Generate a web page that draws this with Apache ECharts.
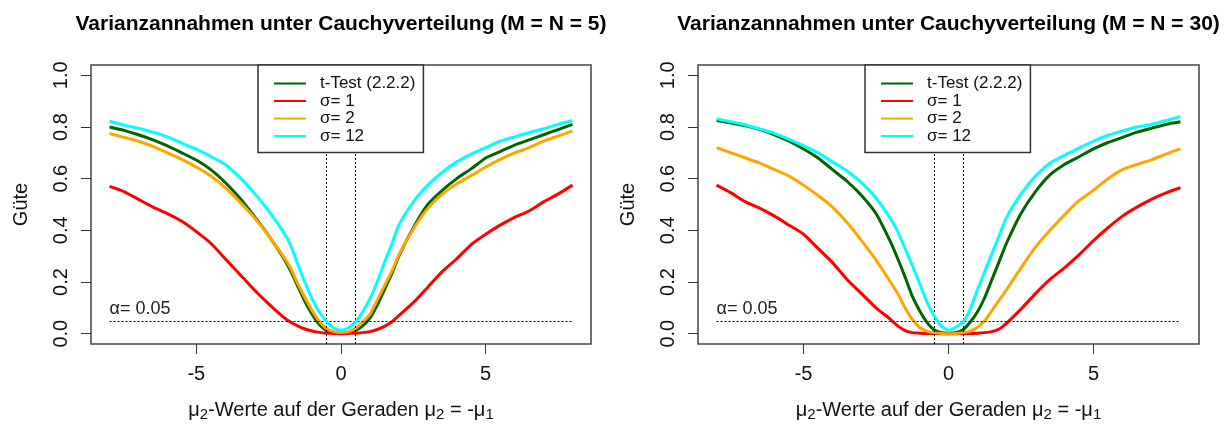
<!DOCTYPE html>
<html>
<head>
<meta charset="utf-8">
<script src="https://cdn.jsdelivr.net/npm/echarts@6/dist/echarts.min.js"></script>
<style>
  html, body { margin: 0; padding: 0; background: #fff; }
  #chart { width: 1229px; height: 427px; }
</style>
</head>
<body>
<div id="chart"></div>
<script>
// mu2 positions on the line mu2 = -mu1
const mu2 = [-8, -7.5, -7, -6.5, -6, -5.5, -5, -4.5, -4, -3.5, -3, -2.5, -2, -1.75, -1.5, -1.25, -1, -0.75, -0.5, -0.25,
  0, 0.25, 0.5, 0.75, 1, 1.25, 1.5, 1.75, 2, 2.5, 3, 3.5, 4, 4.5, 5, 5.5, 6, 6.5, 7, 7.5, 8];

// power (Güte), M = N = 5
const tTest5 = [0.80, 0.787, 0.77, 0.75, 0.727, 0.70, 0.672, 0.635, 0.585, 0.525, 0.455, 0.38, 0.295, 0.245, 0.185, 0.125, 0.075, 0.035, 0.012, 0.004,
  0.002, 0.004, 0.012, 0.03, 0.06, 0.11, 0.17, 0.23, 0.30, 0.41, 0.50, 0.555, 0.60, 0.638, 0.68, 0.705, 0.73, 0.75, 0.77, 0.79, 0.81];
const sigma1_5 = [0.57, 0.55, 0.52, 0.49, 0.465, 0.435, 0.395, 0.35, 0.29, 0.23, 0.17, 0.115, 0.065, 0.045, 0.03, 0.018, 0.01, 0.005, 0.002, 0.001,
  0, 0.001, 0.002, 0.004, 0.008, 0.016, 0.028, 0.045, 0.07, 0.12, 0.18, 0.24, 0.29, 0.345, 0.385, 0.42, 0.45, 0.475, 0.51, 0.54, 0.575];
const sigma2_5 = [0.775, 0.76, 0.745, 0.725, 0.70, 0.675, 0.645, 0.61, 0.565, 0.51, 0.45, 0.38, 0.30, 0.255, 0.195, 0.14, 0.09, 0.048, 0.02, 0.008,
  0.005, 0.008, 0.02, 0.045, 0.075, 0.13, 0.185, 0.24, 0.305, 0.405, 0.485, 0.54, 0.58, 0.612, 0.645, 0.675, 0.70, 0.72, 0.745, 0.765, 0.785];
const sigma12_5 = [0.822, 0.808, 0.795, 0.78, 0.762, 0.738, 0.714, 0.686, 0.655, 0.605, 0.545, 0.475, 0.395, 0.345, 0.27, 0.20, 0.135, 0.085, 0.048, 0.022,
  0.014, 0.022, 0.045, 0.085, 0.135, 0.20, 0.275, 0.345, 0.42, 0.51, 0.575, 0.625, 0.665, 0.695, 0.72, 0.745, 0.762, 0.778, 0.793, 0.81, 0.825];

// power (Güte), M = N = 30
const tTest30 = [0.825, 0.815, 0.805, 0.79, 0.77, 0.745, 0.715, 0.68, 0.635, 0.59, 0.535, 0.465, 0.355, 0.29, 0.22, 0.145, 0.09, 0.045, 0.015, 0.004,
  0.002, 0.004, 0.015, 0.045, 0.085, 0.14, 0.21, 0.28, 0.35, 0.465, 0.55, 0.615, 0.655, 0.685, 0.715, 0.74, 0.76, 0.78, 0.795, 0.81, 0.82];
const sigma1_30 = [0.575, 0.545, 0.51, 0.485, 0.455, 0.42, 0.385, 0.33, 0.275, 0.21, 0.155, 0.10, 0.055, 0.03, 0.012, 0.004, 0.002, 0.001, 0.001, 0,
  0, 0, 0.001, 0.001, 0.002, 0.004, 0.008, 0.018, 0.04, 0.095, 0.155, 0.21, 0.255, 0.305, 0.36, 0.41, 0.455, 0.49, 0.52, 0.545, 0.565];
const sigma2_30 = [0.72, 0.70, 0.68, 0.66, 0.635, 0.61, 0.575, 0.535, 0.49, 0.43, 0.36, 0.285, 0.20, 0.155, 0.10, 0.055, 0.025, 0.01, 0.004, 0.001,
  0, 0.001, 0.004, 0.01, 0.025, 0.05, 0.09, 0.13, 0.17, 0.255, 0.335, 0.40, 0.46, 0.515, 0.555, 0.60, 0.635, 0.655, 0.673, 0.695, 0.715];
const sigma12_30 = [0.832, 0.82, 0.808, 0.792, 0.775, 0.752, 0.728, 0.70, 0.665, 0.63, 0.585, 0.525, 0.445, 0.395, 0.33, 0.265, 0.195, 0.125, 0.07, 0.03,
  0.014, 0.025, 0.045, 0.095, 0.17, 0.24, 0.31, 0.38, 0.45, 0.54, 0.61, 0.66, 0.69, 0.718, 0.745, 0.768, 0.785, 0.80, 0.81, 0.825, 0.84];

const seriesNames = ['t-Test (2.2.2)', 'σ= 1', 'σ= 2', 'σ= 12'];
const seriesColors = ['#006400', '#ff0000', '#ffa500', '#00ffff'];
const panelTitles = ['Varianzannahmen unter Cauchyverteilung (M = N = 5)', 'Varianzannahmen unter Cauchyverteilung (M = N = 30)'];
const xTicks = [-5, 0, 5];
const yTicks = [0, 0.2, 0.4, 0.6, 0.8, 1.0];
const alphaLevel = 0.05;
const refX = [-0.5, 0.5];

const panels = [[tTest5, sigma1_5, sigma2_5, sigma12_5], [tTest30, sigma1_30, sigma2_30, sigma12_30]];

const FONT = '"Liberation Sans", Arial, sans-serif';
const TXT = '#111';

const grids = [
  { left: 91, top: 65, width: 500, height: 281 },
  { left: 698, top: 65, width: 501, height: 281 }
];

const chart = echarts.init(document.getElementById('chart'), null, { renderer: 'canvas' });

const xAxes = grids.map((g, i) => ({
  type: 'value', gridIndex: i, min: -8.64, max: 8.64,
  axisLine: { show: false, onZero: false },
  splitLine: { show: false },
  axisTick: { show: true, length: 10, inside: false, customValues: xTicks, lineStyle: { color: '#333', width: 1 } },
  axisLabel: { customValues: xTicks, margin: 20, fontSize: 20, color: TXT, fontFamily: FONT },
  name: '{m|μ}{s|2}{m|-Werte auf der Geraden }{m|μ}{s|2}{m| = -}{m|μ}{s|1}',
  nameLocation: 'middle', nameGap: 54,
  nameTextStyle: {
    fontFamily: FONT, color: TXT,
    rich: {
      m: { fontSize: 20, lineHeight: 24, fontFamily: FONT, color: TXT },
      s: { fontSize: 15, lineHeight: 15, verticalAlign: 'bottom', fontFamily: FONT, color: TXT }
    }
  }
}));

const yAxes = grids.map((g, i) => ({
  type: 'value', gridIndex: i, min: -0.04, max: 1.04,
  axisLine: { show: false, onZero: false },
  splitLine: { show: false },
  axisTick: { show: true, length: 10, inside: false, customValues: yTicks, lineStyle: { color: '#333', width: 1 } },
  axisLabel: { customValues: yTicks, rotate: 90, margin: 20, fontSize: 20, color: TXT, fontFamily: FONT,
    formatter: v => v.toFixed(1) },
  name: 'Güte', nameLocation: 'middle', nameGap: 60, nameRotate: 90,
  nameTextStyle: { fontSize: 20, color: TXT, fontFamily: FONT }
}));

const series = [];
panels.forEach((curves, p) => {
  curves.forEach((vals, k) => {
    series.push({
      type: 'line', name: seriesNames[k], xAxisIndex: p, yAxisIndex: p,
      data: mu2.map((x, j) => [x, vals[j]]),
      showSymbol: false, symbol: 'none', smooth: 0.2,
      lineStyle: { color: seriesColors[k], width: 3 },
      itemStyle: { color: seriesColors[k] },
      silent: true, animation: false, z: 2 + k
    });
  });
  // reference lines: alpha level and mu2 = +-0.5
  series.push({
    type: 'line', xAxisIndex: p, yAxisIndex: p, data: [], silent: true, animation: false,
    markLine: {
      symbol: 'none', silent: true, animation: false,
      lineStyle: { color: '#000', type: [2, 2], width: 1 },
      data: [
        [{ coord: [-8, alphaLevel], label: { show: true, position: 'insideStartTop', formatter: 'α= 0.05',
            fontSize: 18, color: '#222', fontFamily: FONT, distance: [0, 3] } },
         { coord: [8, alphaLevel] }],
        { xAxis: refX[0], label: { show: false } },
        { xAxis: refX[1], label: { show: false } }
      ]
    }
  });
});

const legends = grids.map((g, i) => ({
  data: seriesNames,
  orient: 'vertical',
  left: i === 0 ? 258 : 865,
  top: 65,
  padding: [10, 8, 8, 16],
  backgroundColor: '#fff',
  borderColor: '#333',
  borderWidth: 1.5,
  borderRadius: 0,
  icon: 'rect',
  itemWidth: 32,
  itemHeight: 2,
  itemGap: 0.5,
  selectedMode: false,
  formatter: name => '{t|' + name + '}',
  textStyle: {
    fontFamily: FONT, fontSize: 17, color: TXT,
    rich: { t: { fontFamily: FONT, fontSize: 17, color: TXT, lineHeight: 17, padding: [0, 0, 0, 9] } }
  },
  z: 10
}));

const titles = panelTitles.map((t, i) => ({
  text: t,
  left: i === 0 ? 341 : 948.5,
  top: 14,
  textAlign: 'center',
  padding: 0,
  textStyle: { fontFamily: FONT, fontSize: 21, fontWeight: 'bold', color: '#000' }
}));

chart.setOption({
  backgroundColor: '#fff',
  animation: false,
  title: titles,
  legend: legends,
  grid: grids.map(g => Object.assign({ show: true, borderColor: '#444', borderWidth: 1.5, backgroundColor: 'transparent', containLabel: false }, g)),
  xAxis: xAxes,
  yAxis: yAxes,
  series: series
});
</script>
</body>
</html>
